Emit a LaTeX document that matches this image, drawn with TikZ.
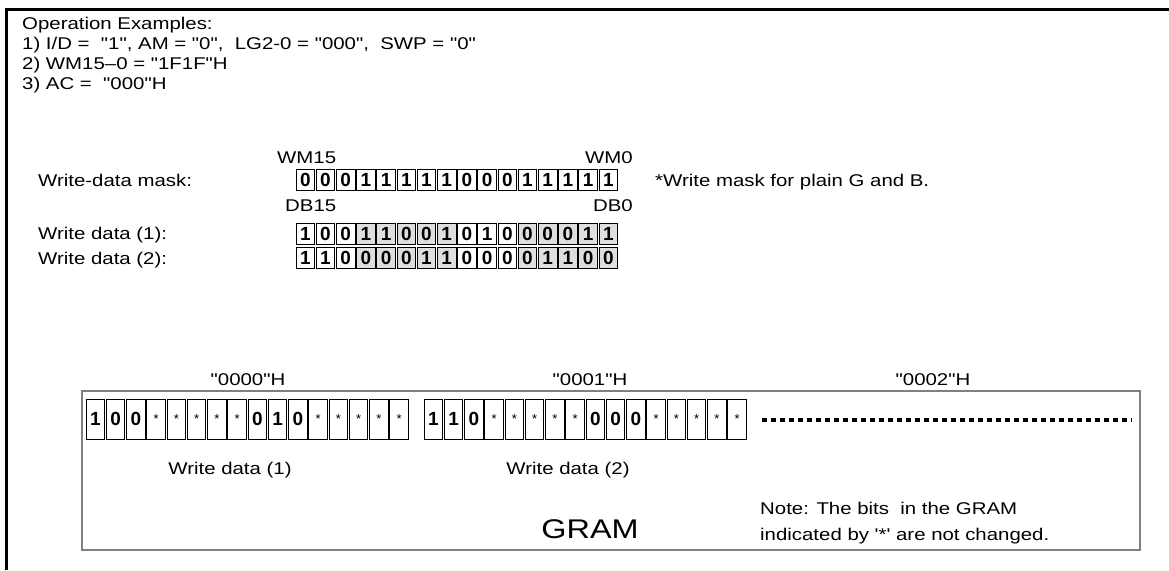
\documentclass[tikz,border=0pt]{standalone}
\usepackage{fontspec}
\setmainfont{Liberation Sans}[Ligatures=TeXOff, FakeStretch=1.2]
\newfontfamily\bitfont{Liberation Sans}[Ligatures=TeXOff]
\usetikzlibrary{positioning}

\newcommand\gstar{{\bitfont\mdseries\fontsize{13}{13}\selectfont *}}

\begin{document}
\begin{tikzpicture}[x=1pt, y=-1pt,
  txt/.style={font=\fontsize{17}{18}\selectfont, inner sep=0pt,
    text height=12.2pt, text depth=0pt},
  bit/.style={draw, line width=0.9pt, minimum width=18.6pt, minimum height=21pt,
    inner sep=0pt, font=\bitfont\fontsize{19}{19}\selectfont\bfseries},
  cell/.style={bit, minimum height=40pt},
  w/.style={fill=white},
  g/.style={fill=black!13}]

  \useasboundingbox (0,0) rectangle (1169,570);

  % frame (top and left only)
  \draw[line width=3pt] (6.5,570) -- (6.5,9.5) -- (1169,9.5);

  % operation conditions
  \node[txt, anchor=west] (ops)  at (22,23) {Operation Examples:};
  \node[txt, anchor=west] (cnd1) at (22,43) {1) I/D =\ \ "1", AM = "0",\ \ LG2-0 = "000",\ \ SWP = "0"};
  \node[txt, anchor=west] (cnd2) at (22,63) {2) WM15–0 = "1F1F"H};
  \node[txt, anchor=west] (cnd3) at (22,83) {3) AC =\ \ "000"H};

  % write-data mask
  \node[txt, anchor=west] (lmask) at (38,180) {Write-data mask:};
  \foreach \b [count=\i from 0] in {0,0,0,1,1,1,1,1,0,0,0,1,1,1,1,1}
    \node[bit] (m\i) at ({305.3+20.2*\i},179.5) {\b};
  \node[txt, anchor=west] (wm15) at (277,157) {WM15};
  \node[txt, anchor=east] (wm0)  at (633,157) {WM0};
  \node[txt, anchor=west] (note1) at (655,180) {*Write mask for plain G and B.};

  % write data
  \node[txt, anchor=west] (db15) at (285,205) {DB15};
  \node[txt, anchor=east] (db0)  at (633,205) {DB0};
  \node[txt, anchor=west] (lwd1) at (38,233) {Write data (1):};
  \node[txt, anchor=west] (lwd2) at (38,258) {Write data (2):};
  \foreach \b/\c [count=\i from 0] in {1/w,0/w,0/w,1/g,1/g,0/g,0/g,1/g,0/w,1/w,0/w,0/g,0/g,0/g,1/g,1/g}
    \node[bit, \c] (a\i) at ({305.3+20.2*\i},233.5) {\b};
  \foreach \b/\c [count=\i from 0] in {1/w,1/w,0/w,0/g,0/g,0/g,1/g,1/g,0/w,0/w,0/w,0/g,1/g,1/g,0/g,0/g}
    \node[bit, \c] (b\i) at ({305.3+20.2*\i},258) {\b};

  % GRAM
  \draw[line width=2.5pt, gray] (82,391) rectangle (1140,550);
  \node[txt] (ad0) at (248,379) {"0000"H};
  \node[txt] (ad1) at (590,379) {"0001"H};
  \node[txt] (ad2) at (933,379) {"0002"H};
  \foreach \b [count=\i from 0] in {1,0,0,\gstar,\gstar,\gstar,\gstar,\gstar,0,1,0,\gstar,\gstar,\gstar,\gstar,\gstar}
    \node[cell] (p\i) at ({95.3+20.25*\i},419) {\b};
  \foreach \b [count=\i from 0] in {1,1,0,\gstar,\gstar,\gstar,\gstar,\gstar,0,0,0,\gstar,\gstar,\gstar,\gstar,\gstar}
    \node[cell] (q\i) at ({433.3+20.25*\i},419) {\b};
  \coordinate (dotsA) at (762,420);
  \coordinate (dotsB) at (1132,420);
  \draw[line width=4pt, dash pattern=on 4.5pt off 4.5pt] (dotsA) -- (dotsB);

  \node[txt] (wd1) at (230,468) {Write data (1)};
  \node[txt] (wd2) at (568,468) {Write data (2)};
  \node[font=\fontsize{27}{30}\selectfont, inner sep=0pt] (gram) at (590,529) {GRAM};
  \node[txt, anchor=west] (note2a) at (760,508) {Note: The bits\ \ in the GRAM};
  \node[txt, anchor=west] (note2b) at (760,534) {indicated by '*' are not changed.};
\end{tikzpicture}
\end{document}
